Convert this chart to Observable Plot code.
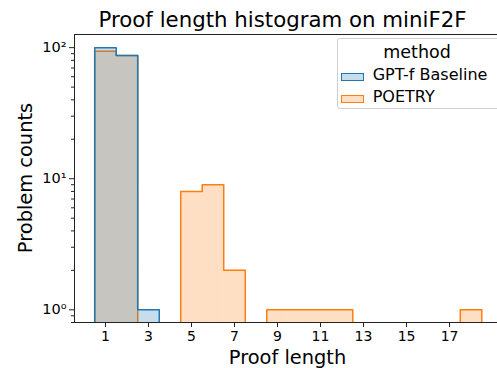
<!DOCTYPE html>
<html>
<head>
<meta charset="utf-8">
<script src="https://cdn.jsdelivr.net/npm/d3@7"></script>
<script src="https://cdn.jsdelivr.net/npm/@observablehq/plot@0.6"></script>
<style>
  html, body { margin: 0; padding: 0; background: #fff; }
  #wrap { position: relative; width: 497px; height: 368px; font-family: "DejaVu Sans", sans-serif; color: #000; overflow: hidden; }
  .ov { position: absolute; white-space: nowrap; line-height: 1; }
</style>
</head>
<body>
<div id="wrap"></div>
<script>
// ---- data ----
const bins = [1, 2, 3, 4, 5, 6, 7, 8, 9, 10, 11, 12, 13, 14, 15, 16, 17, 18];
const gptfCounts =   [100, 87, 1, 0, 0, 0, 0, 0, 0, 0, 0, 0, 0, 0, 0, 0, 0, 0];
const poetryCounts = [94, 87, 0, 0, 8, 9, 2, 0, 1, 1, 1, 1, 0, 0, 0, 0, 0, 1];
const seriesNames = ["GPT-f Baseline", "POETRY"];
const seriesColors = ["#1f77b4", "#ff7f0e"];
const xTicks = [1, 3, 5, 7, 9, 11, 13, 15, 17];
const yTicks = [1, 10, 100];
const yTickLabels = ["10⁰", "10¹", "10²"];
const yMinorTicks = [0.8, 0.9, 2, 3, 4, 5, 6, 7, 8, 9, 20, 30, 40, 50, 60, 70, 80, 90];

const FLOOR = 0.05; // zero counts drawn below the visible log domain (clipped)
const xDomain = [-0.44, 19.23];
const yDomain = [0.8, 126];

function rects(counts) {
  return bins.map((b, i) => ({x1: b - 0.5, x2: b + 0.5, y: counts[i] > 0 ? counts[i] : FLOOR}));
}
function outline(counts) {
  const pts = [{x: bins[0] - 0.5, y: FLOOR}];
  bins.forEach((b, i) => pts.push({x: b - 0.5, y: counts[i] > 0 ? counts[i] : FLOOR}));
  pts.push({x: bins[bins.length - 1] + 0.5, y: FLOOR});
  return pts;
}

const allCounts = [gptfCounts, poetryCounts];
// seaborn layers later hues first: draw POETRY, then GPT-f on top
const layers = [];
for (const i of [1, 0]) {
  layers.push(Plot.rectY(rects(allCounts[i]), {x1: "x1", x2: "x2", y1: FLOOR, y2: "y", fill: seriesColors[i], fillOpacity: 0.25, inset: 0, clip: true}));
  layers.push(Plot.line(outline(allCounts[i]), {x: "x", y: "y", curve: "step-after", stroke: seriesColors[i], strokeWidth: 1.5, clip: true}));
}

const chart = Plot.plot({
  width: 497,
  height: 368,
  marginLeft: 74,
  marginRight: 0,
  marginTop: 34,
  marginBottom: 46,
  style: {fontFamily: "DejaVu Sans, sans-serif", fontSize: "14px", color: "#000", background: "#fff", overflow: "hidden"},
  x: {domain: xDomain},
  y: {type: "log", domain: yDomain},
  marks: [
    ...layers,
    Plot.ruleX([xDomain[0]], {stroke: "#222", strokeWidth: 1}),
    Plot.ruleY([yDomain[0]], {stroke: "#222", strokeWidth: 1}),
    Plot.ruleY([yDomain[1]], {stroke: "#222", strokeWidth: 1}),
    Plot.axisX({ticks: xTicks, tickSize: 5, tickPadding: 4, tickFormat: d => String(d), label: null, fontSize: 14, stroke: "#222"}),
    Plot.axisY({ticks: yTicks, tickSize: 5, tickPadding: 3, tickFormat: d => yTickLabels[yTicks.indexOf(d)], label: null, fontSize: 14.5, stroke: "#222"}),
    Plot.axisY({ticks: yMinorTicks.filter(v => v >= yDomain[0]), tickSize: 3, tickFormat: () => "", label: null, stroke: "#222"})
  ]
});

const wrap = document.getElementById("wrap");
wrap.appendChild(chart);

function ov(text, css) {
  const d = document.createElement("div");
  d.className = "ov";
  d.textContent = text;
  Object.assign(d.style, css);
  wrap.appendChild(d);
  return d;
}
ov("Proof length histogram on miniF2F", {left: "0px", width: "565px", textAlign: "center", top: "9px", fontSize: "21.3px"});
ov("Proof length", {left: "0px", width: "575px", textAlign: "center", top: "347.5px", fontSize: "19.4px"});
ov("Problem counts", {left: "26px", top: "178px", fontSize: "19.4px", transform: "translate(-50%,-50%) rotate(-90deg)"});

// legend
const lg = document.createElement("div");
Object.assign(lg.style, {position: "absolute", left: "337px", top: "38px", width: "170px", height: "71px", border: "1px solid #d0d0d0", borderRadius: "3px", background: "rgba(255,255,255,0.8)", boxSizing: "border-box"});
wrap.appendChild(lg);
ov("method", {left: "337px", width: "160px", textAlign: "center", top: "43.5px", fontSize: "17.5px"});
seriesNames.forEach((name, i) => {
  const ptop = 72.5 + i * 22.7;
  const p = document.createElement("div");
  Object.assign(p.style, {position: "absolute", left: "341px", top: ptop + "px", width: "23px", height: "8px", border: "1.5px solid " + seriesColors[i], background: seriesColors[i] + "40", boxSizing: "border-box"});
  wrap.appendChild(p);
  ov(name, {left: "372.7px", top: (66.5 + i * 22.7) + "px", fontSize: "16px"});
});
</script>
</body>
</html>
